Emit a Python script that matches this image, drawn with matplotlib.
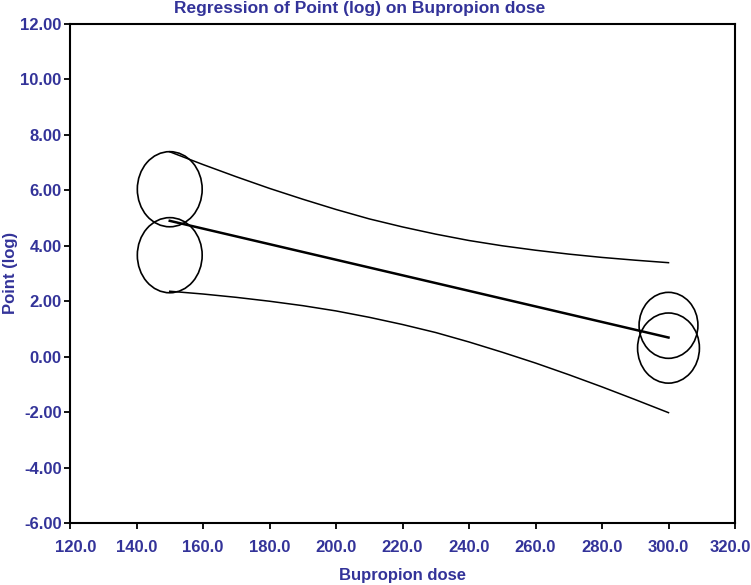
import matplotlib
matplotlib.use("Agg")
import matplotlib.pyplot as plt
from matplotlib.patches import Ellipse
from matplotlib.transforms import ScaledTranslation

# studies: dose vs effect (log), bubble size in data units
dose = [150, 150, 300, 300]
effect = [6.04, 3.66, 1.13, 0.31]
bubble_w = [19.5, 19.5, 17.7, 18.6]
bubble_h = [2.71, 2.71, 2.38, 2.53]

# fitted regression line
line_x = [150, 300]
line_y = [4.90, 0.69]

# confidence band
ci_x = [150, 160, 170, 180, 190, 200, 210, 220, 230, 240, 250, 260, 270, 280, 290, 300]
ci_upper = [7.39, 6.93, 6.49, 6.07, 5.68, 5.31, 4.97, 4.68, 4.42, 4.19, 4.00, 3.84, 3.70, 3.58, 3.48, 3.39]
ci_lower = [2.36, 2.26, 2.14, 2.00, 1.84, 1.65, 1.42, 1.16, 0.87, 0.53, 0.16, -0.23, -0.65, -1.09, -1.55, -2.02]

x_ticks = [120, 140, 160, 180, 200, 220, 240, 260, 280, 300, 320]
y_ticks = [-6, -4, -2, 0, 2, 4, 6, 8, 10, 12]

blue = '#333399'
plt.rcParams['font.family'] = ['Liberation Sans', 'DejaVu Sans']

fig = plt.figure(figsize=(7.51, 5.85), dpi=100)
ax = fig.add_axes([70 / 751, 62 / 585, 665 / 751, 499 / 585])
ax.set_xlim(120, 320)
ax.set_ylim(-6, 12)

for x, y, w, h in zip(dose, effect, bubble_w, bubble_h):
    ax.add_patch(Ellipse((x, y), w, h, facecolor='none', edgecolor='black', linewidth=1.2))

ax.plot(line_x, line_y, color='black', linewidth=1.8)
ax.plot(ci_x, ci_upper, color='black', linewidth=1.1)
ax.plot(ci_x, ci_lower, color='black', linewidth=1.1)

ax.set_xticks(x_ticks)
ax.set_xticklabels([f'{v:.1f}' for v in x_ticks])
ax.set_yticks(y_ticks)
ax.set_yticklabels([f'{v:.2f}' for v in y_ticks])
ax.tick_params(direction='out', length=4.5, width=1.3, colors='black',
               labelcolor=blue, labelsize=12)
ax.tick_params(axis='x', pad=8)
ax.tick_params(axis='y', pad=1.5)
for lbl in ax.get_xticklabels() + ax.get_yticklabels():
    lbl.set_fontweight('bold')
# end labels are nudged inwards, as in the original
xlabels = ax.get_xticklabels()
first, last = xlabels[0], xlabels[-1]
first.set_transform(first.get_transform() + ScaledTranslation(6 / 100, 0, fig.dpi_scale_trans))
last.set_transform(last.get_transform() + ScaledTranslation(-5 / 100, 0, fig.dpi_scale_trans))
for sp in ax.spines.values():
    sp.set_linewidth(1.5)

ax.set_xlabel('Bupropion dose', color=blue, fontsize=12, fontweight='bold', labelpad=9)
fig.text(11 / 751, 1 - 273 / 585, 'Point (log)', color=blue, fontsize=12,
         fontweight='bold', rotation=90, ha='center', va='center')
fig.text(360 / 751, 1 - 8 / 585, 'Regression of Point (log) on Bupropion dose',
         color=blue, fontsize=12.5, fontweight='bold', ha='center', va='center')

fig.savefig('out.png', dpi=100)
